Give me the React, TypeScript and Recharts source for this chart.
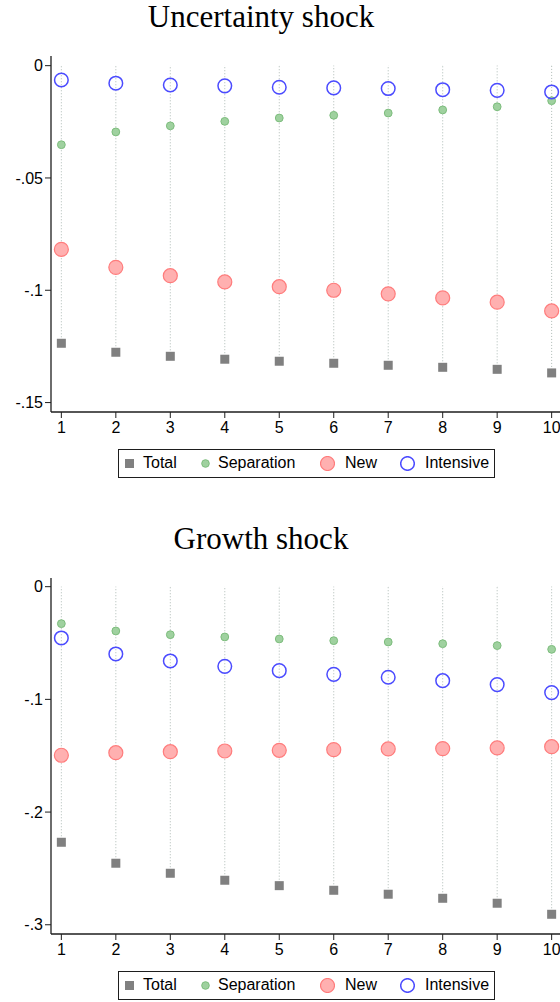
import React from 'react';
import { ScatterChart, Scatter, XAxis, YAxis, ErrorBar, Legend } from 'recharts';

const horizons = [1, 2, 3, 4, 5, 6, 7, 8, 9, 10];

// Uncertainty shock
const uncTotal = [-0.1236, -0.1276, -0.1294, -0.1307, -0.1316, -0.1325, -0.1334, -0.1343, -0.1352, -0.1368];
const uncSeparation = [-0.0352, -0.0295, -0.0268, -0.0248, -0.0233, -0.0221, -0.0211, -0.0197, -0.0183, -0.0156];
const uncNew = [-0.0818, -0.0898, -0.0935, -0.0963, -0.0984, -0.1, -0.1016, -0.1034, -0.1053, -0.1092];
const uncIntensive = [-0.0064, -0.0078, -0.0086, -0.009, -0.0096, -0.0099, -0.0102, -0.0107, -0.011, -0.0117];
const uncTicks = [0, -0.05, -0.1, -0.15];

// Growth shock
const groTotal = [-0.2268, -0.2454, -0.2543, -0.2605, -0.2653, -0.2694, -0.2729, -0.2765, -0.2809, -0.2907];
const groSeparation = [-0.0328, -0.0393, -0.0426, -0.0446, -0.0464, -0.0479, -0.0491, -0.0506, -0.0523, -0.0556];
const groNew = [-0.1496, -0.1473, -0.1464, -0.1458, -0.1452, -0.1446, -0.144, -0.1437, -0.1431, -0.142];
const groIntensive = [-0.0455, -0.0597, -0.0659, -0.0707, -0.0745, -0.0778, -0.0804, -0.0834, -0.0869, -0.094];
const groTicks = [0, -0.1, -0.2, -0.3];

const seriesNames = ['Total', 'Separation', 'New', 'Intensive'];

const SANS = '"Liberation Sans", Arial, sans-serif';
const AXIS = '#1e1e1e';

const fmt = (v: number) => (v === 0 ? '0' : String(v).replace('0.', '.'));

const drawSquare = (p: any) => <rect x={p.cx - 4.5} y={p.cy - 4.5} width={9} height={9} fill="#808080" />;
const drawSep = (p: any) => <circle cx={p.cx} cy={p.cy} r={3.9} fill="#9fd19f" stroke="#7dbd7d" strokeWidth={1} />;
const drawNew = (p: any) => <circle cx={p.cx} cy={p.cy} r={7} fill="#ffb0b0" stroke="#ff7c7c" strokeWidth={1.2} />;
const drawInt = (p: any) => <circle cx={p.cx} cy={p.cy} r={6.8} fill="none" stroke="#4b4bff" strokeWidth={1.5} />;

const legendIcon = (name: string) => {
  if (name === 'Total') return <rect x={3} y={3} width={9} height={9} fill="#808080" />;
  if (name === 'Separation') return <circle cx={7.5} cy={7.5} r={3.8} fill="#9fd19f" stroke="#7dbd7d" />;
  if (name === 'New') return <circle cx={7.5} cy={7.5} r={7} fill="#ffb0b0" stroke="#ff7c7c" strokeWidth={1.2} />;
  return <circle cx={7.5} cy={7.5} r={6.8} fill="none" stroke="#4b4bff" strokeWidth={1.5} />;
};

const iconX = [3, 79, 201, 281];
const textX = [24, 99, 226, 306];

const LegendBox = () => (
  <div style={{ position: 'relative', width: 377, height: 29, boxSizing: 'border-box', border: `1px solid ${AXIS}`, background: '#fff', fontFamily: SANS, fontSize: 16, color: '#000' }}>
    {seriesNames.map((n, i) => (
      <React.Fragment key={n}>
        <svg width={15} height={15} style={{ position: 'absolute', left: iconX[i], top: 6 }}>{legendIcon(n)}</svg>
        <span style={{ position: 'absolute', left: textX[i], top: 4, lineHeight: '18px' }}>{n}</span>
      </React.Fragment>
    ))}
  </div>
);

type PanelProps = {
  title: string;
  top: number;
  total: number[];
  separation: number[];
  fresh: number[];
  intensive: number[];
  domain: [number, number];
  ticks: number[];
};

const Panel = ({ title, top, total, separation, fresh, intensive, domain, ticks }: PanelProps) => {
  const mk = (vals: number[]) => horizons.map((h, i) => ({ x: h, y: vals[i] }));
  const totalData = horizons.map((h, i) => ({ x: h, y: total[i], spike: [0, -total[i]] }));
  const xDomain: [number, number] = [0.81, 10.19];
  return (
    <div style={{ position: 'absolute', left: 0, top, width: 560, height: 522 }}>
      <div style={{ position: 'absolute', left: 0, top: 0, width: 522, textAlign: 'center', fontFamily: '"Liberation Serif", "Times New Roman", serif', fontSize: 31, lineHeight: '34px', color: '#000' }}>
        {title}
      </div>
      <ScatterChart width={575} height={522} margin={{ top: 56, right: 13, left: 0, bottom: 51 }}>
        <XAxis
          xAxisId="top"
          orientation="top"
          type="number"
          dataKey="x"
          domain={xDomain}
          allowDataOverflow
          height={0}
          tick={false}
          tickLine={false}
          axisLine={{ stroke: AXIS, strokeWidth: 1.3 }}
        />
        <XAxis
          type="number"
          dataKey="x"
          domain={xDomain}
          allowDataOverflow
          ticks={horizons}
          height={30}
          tickSize={6}
          tickMargin={4}
          tick={{ fill: '#000', fontSize: 16, fontFamily: SANS }}
          tickLine={{ stroke: AXIS }}
          axisLine={{ stroke: AXIS, strokeWidth: 1.3 }}
        />
        <YAxis
          type="number"
          dataKey="y"
          domain={domain}
          allowDataOverflow
          ticks={ticks}
          tickFormatter={fmt}
          width={51}
          tickSize={6}
          tick={{ fill: '#000', fontSize: 16, fontFamily: SANS }}
          tickLine={{ stroke: AXIS }}
          axisLine={{ stroke: AXIS, strokeWidth: 1.3 }}
        />
        <Legend
          content={() => <LegendBox />}
          wrapperStyle={{ left: 118, top: 449, width: 377, height: 29 }}
        />
        <Scatter name="Total" data={totalData} shape={drawSquare} isAnimationActive={false}>
          <ErrorBar dataKey="spike" direction="y" width={0} stroke="#adbab5" strokeWidth={1} strokeDasharray="1 2" />
        </Scatter>
        <Scatter name="Separation" data={mk(separation)} shape={drawSep} isAnimationActive={false} />
        <Scatter name="New" data={mk(fresh)} shape={drawNew} isAnimationActive={false} />
        <Scatter name="Intensive" data={mk(intensive)} shape={drawInt} isAnimationActive={false} />
      </ScatterChart>
    </div>
  );
};

export default function App() {
  return (
    <div style={{ position: 'absolute', left: 0, top: 0, width: 560, height: 1002, overflow: 'hidden', background: '#fff' }}>
      <Panel
        title="Uncertainty shock"
        top={0}
        total={uncTotal}
        separation={uncSeparation}
        fresh={uncNew}
        intensive={uncIntensive}
        domain={[-0.1542, 0.0043]}
        ticks={uncTicks}
      />
      <Panel
        title="Growth shock"
        top={522}
        total={groTotal}
        separation={groSeparation}
        fresh={groNew}
        intensive={groIntensive}
        domain={[-0.3082, 0.0077]}
        ticks={groTicks}
      />
    </div>
  );
}
